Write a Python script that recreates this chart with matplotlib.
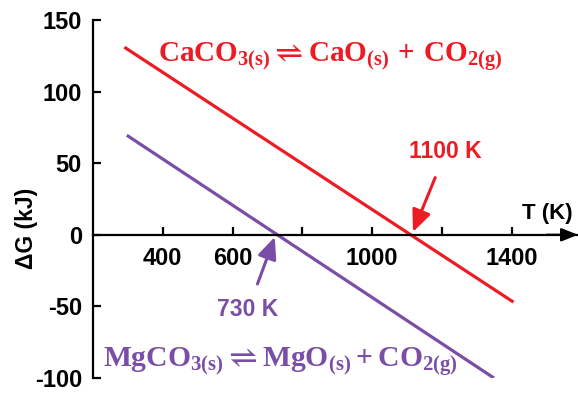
import matplotlib
matplotlib.use("Agg")
import matplotlib.pyplot as plt

# ---- data ----
T_ca = [290, 1405]
G_ca = [131, -47]
T_mg = [297, 1349]
G_mg = [69.5, -100]
xticks = [400, 600, 800, 1000, 1200, 1400]
xtick_labels = ["400", "600", "", "1000", "", "1400"]
yticks = [-100, -50, 0, 50, 100, 150]
ca_label = "1100 K"
mg_label = "730 K"

RED = "#ED1C24"
PURPLE = "#7A4EA6"

plt.rcParams["font.family"] = ["Liberation Sans", "DejaVu Sans"]
plt.rcParams["font.weight"] = "bold"
plt.rcParams["axes.unicode_minus"] = False
plt.rcParams["mathtext.fontset"] = "custom"
plt.rcParams["mathtext.rm"] = "Liberation Serif:bold"
plt.rcParams["mathtext.bf"] = "Liberation Serif:bold"
plt.rcParams["mathtext.it"] = "Liberation Serif:bold"
plt.rcParams["mathtext.fallback"] = "stix"

fig = plt.figure(figsize=(5.78, 3.93), dpi=100)
ax = fig.add_axes([93 / 578, 1 - 378 / 393, 1 - 93 / 578, (378 - 20) / 393])

ax.plot(T_ca, G_ca, color=RED, lw=2.3, solid_capstyle="butt")
ax.plot(T_mg, G_mg, color=PURPLE, lw=2.3, solid_capstyle="butt")

ax.set_xlim(200, 1590)
ax.set_ylim(-100, 150)

for s in ["top", "right"]:
    ax.spines[s].set_visible(False)
ax.spines["bottom"].set_position(("data", 0))
ax.spines["left"].set_linewidth(1.6)
ax.spines["bottom"].set_linewidth(1.6)

ax.set_xticks(xticks)
ax.set_xticklabels(xtick_labels)
ax.set_yticks(yticks)
ax.tick_params(axis="both", direction="in", length=6, width=1.6, labelsize=17, pad=8)
ax.tick_params(axis="x", pad=9)
for lab in ax.get_xticklabels() + ax.get_yticklabels():
    lab.set_fontweight("bold")

# x axis arrow head
ax.annotate("", xy=(1590, 0), xytext=(1500, 0),
            arrowprops=dict(arrowstyle="-|>,head_length=1.0,head_width=0.4",
                            color="black", lw=1.6, shrinkA=0, shrinkB=0),
            annotation_clip=False)

# axis labels
fig.text(27 / 578, 1 - 228 / 393, "ΔG (kJ)", rotation=90, ha="center", va="center",
         fontsize=16.5, fontweight="bold")
fig.text(547 / 578, 1 - 214 / 393, "T (K)", ha="center", va="center",
         fontsize=16, fontweight="bold")

# annotations
ax.annotate(ca_label, xy=(1117, 2), xytext=(1211, 58), color=RED, fontsize=16.5,
            fontweight="bold", ha="center", va="center",
            arrowprops=dict(arrowstyle="-|>,head_length=0.8,head_width=0.35",
                            color=RED, lw=2.2, shrinkA=9, shrinkB=0))
ax.annotate(mg_label, xy=(721, -1.5), xytext=(644, -52.5), color=PURPLE, fontsize=16.5,
            fontweight="bold", ha="center", va="center",
            arrowprops=dict(arrowstyle="-|>,head_length=0.8,head_width=0.35",
                            color=PURPLE, lw=2.2, shrinkA=9, shrinkB=0))

# reaction equations
fig.text(158 / 578, 1 - 62 / 393,
         r"$\mathbf{CaCO_{3(s)}}\rightleftharpoons\mathbf{CaO_{(s)}}\,+\,\mathbf{CO_{2(g)}}$",
         color=RED, fontsize=21, ha="left", va="baseline")
fig.text(103 / 578, 1 - 367 / 393,
         r"$\mathbf{MgCO_{3(s)}}\rightleftharpoons\mathbf{MgO_{(s)}}+\mathbf{CO_{2(g)}}$",
         color=PURPLE, fontsize=21.3, ha="left", va="baseline")

fig.savefig("out.png", dpi=100)
